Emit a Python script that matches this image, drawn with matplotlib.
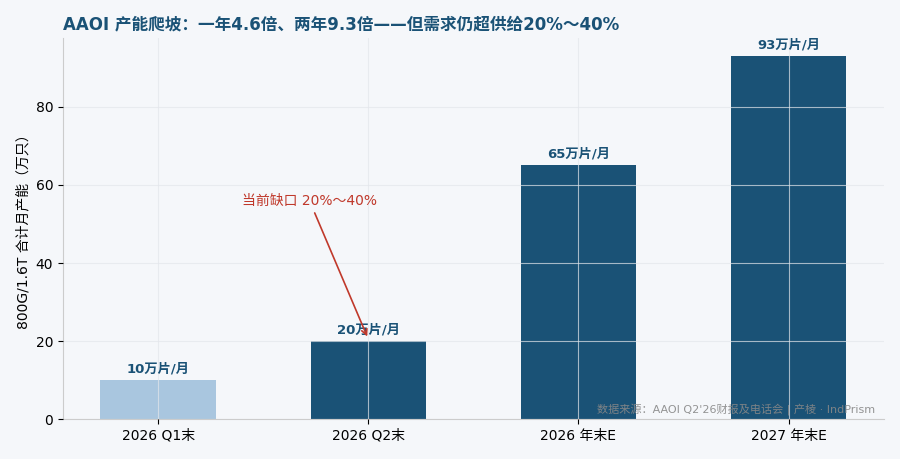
import matplotlib
matplotlib.use("Agg")
import matplotlib.pyplot as plt

plt.rcParams['font.family'] = ['DejaVu Sans', 'Noto Sans CJK SC']
plt.rcParams['axes.unicode_minus'] = False

categories = ["2026 Q1末", "2026 Q2末", "2026 年末E", "2027 年末E"]
values = [10, 20, 65, 93]
bar_labels = ["10万片/月", "20万片/月", "65万片/月", "93万片/月"]
colors = ["#a9c6df", "#1a5276", "#1a5276", "#1a5276"]

bg = "#f5f7fa"
fig, ax = plt.subplots(figsize=(9, 4.59), dpi=100)
fig.patch.set_facecolor(bg)
ax.set_facecolor(bg)

x = list(range(len(categories)))
bars = ax.bar(x, values, width=0.55, color=colors, zorder=1)
ax.set_xticks(x)
ax.set_xticklabels(categories, fontsize=10)
ax.set_ylim(0, max(values) * 1.05)
ax.set_yticks([0, 20, 40, 60, 80])
ax.tick_params(axis='y', labelsize=10)

ax.grid(True, color="#e3e6eb", linewidth=0.8, alpha=0.7, zorder=2)
ax.set_axisbelow(False)

for xi, v, lab in zip(x, values, bar_labels):
    ax.text(xi, v + 1.2, lab, ha='center', va='bottom', fontsize=9.5,
            fontweight='bold', color="#1a5276")

for s in ['top', 'right']:
    ax.spines[s].set_visible(False)
for s in ['left', 'bottom']:
    ax.spines[s].set_color("#cccccc")

ax.set_ylabel("800G/1.6T 合计月产能（万只）", fontsize=10)

ax.annotate("当前缺口 20%～40%", xy=(1, 20.5), xytext=(0.72, 56),
            ha='center', va='center', fontsize=10, color="#c0392b",
            arrowprops=dict(arrowstyle='->', color="#c0392b", lw=1.2))

ax.text(0.99, 0.01, "数据来源：AAOI Q2'26财报及电话会 | 产棱 · IndPrism",
        transform=ax.transAxes, ha='right', va='bottom', fontsize=8,
        color="#888888", alpha=0.9)

ax.set_title("AAOI 产能爬坡：一年4.6倍、两年9.3倍——但需求仍超供给20%～40%",
             loc='left', fontsize=12, fontweight='bold', color="#1a5276")

fig.subplots_adjust(left=0.07, right=0.982, top=0.917, bottom=0.087)
fig.savefig("out.png", dpi=100, facecolor=bg)
